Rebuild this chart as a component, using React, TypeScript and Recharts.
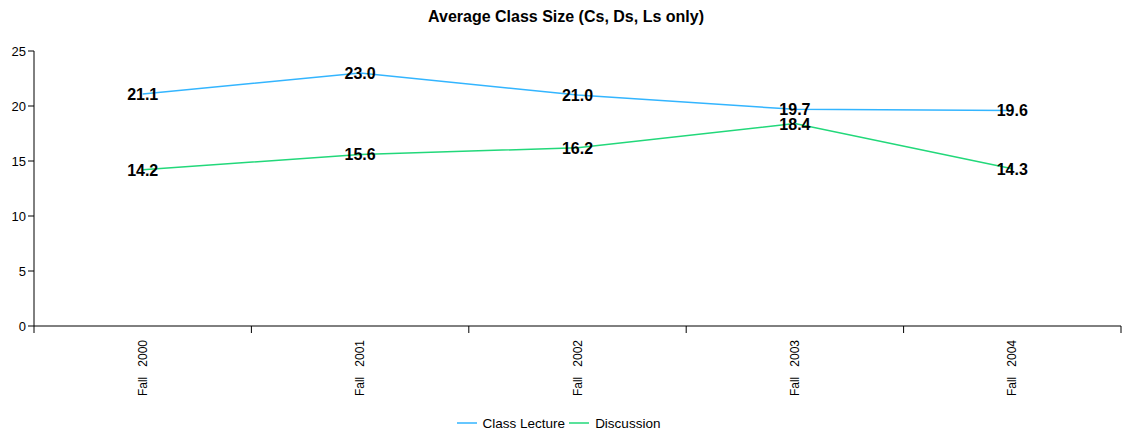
import React from "react";
import { LineChart, Line, XAxis, YAxis, Legend, LabelList } from "recharts";

const categories = ["Fall   2000", "Fall   2001", "Fall   2002", "Fall   2003", "Fall   2004"];
const classLecture = [21.1, 23.0, 21.0, 19.7, 19.6];
const discussion = [14.2, 15.6, 16.2, 18.4, 14.3];
const yTicks = [0, 5, 10, 15, 20, 25];
const boundaryTicks = [0, 1, 2, 3, 4, 5];

const data = categories.map((c, i) => ({
  name: c,
  idx: i + 0.5,
  lecture: classLecture[i],
  discussion: discussion[i],
}));

const FONT = "Arial, 'Liberation Sans', sans-serif";

const XTick = (props: any) => {
  const { x, y, payload } = props;
  return (
    <g transform={`translate(${x},${y})`}>
      <text
        transform="rotate(-90)"
        x={2}
        y={0}
        dy={4}
        textAnchor="end"
        fontSize={12}
        fontFamily={FONT}
        fill="#000"
        style={{ whiteSpace: "pre" }}
      >
        {payload.value}
      </text>
    </g>
  );
};

const PointLabel = (props: any) => {
  const { x, y, value } = props;
  return (
    <text
      x={x}
      y={y}
      dy={6}
      textAnchor="middle"
      fontSize={16}
      fontWeight="bold"
      fontFamily={FONT}
      fill="#000"
    >
      {Number(value).toFixed(1)}
    </text>
  );
};

const LegendContent = (props: any) => {
  const { payload } = props;
  return (
    <div style={{ height: 20, display: "flex", justifyContent: "center", alignItems: "center", fontFamily: FONT, fontSize: 13.5, color: "#000" }}>
      {(payload || []).map((p: any) => (
        <span key={p.value} style={{ display: "inline-flex", alignItems: "center", marginRight: 4 }}>
          <svg width={20} height={10} style={{ marginRight: 6 }}>
            <line x1={0} y1={5} x2={20} y2={5} stroke={p.color} strokeWidth={1.5} />
          </svg>
          {p.value}
        </span>
      ))}
    </div>
  );
};

export default function App() {
  return (
    <div style={{ position: "absolute", left: 0, top: 0, width: 1126, height: 435, background: "#fff", fontFamily: FONT }}>
      <div
        style={{
          position: "absolute",
          left: 0,
          top: 8,
          width: 1132,
          textAlign: "center",
          fontSize: 16,
          fontWeight: "bold",
          color: "#000",
        }}
      >
        Average Class Size (Cs, Ds, Ls only)
      </div>
      <LineChart
        width={1126}
        height={435}
        data={data}
        margin={{ top: 51, right: 5, bottom: 2, left: 0 }}
      >
        <XAxis
          xAxisId="a"
          dataKey="idx"
          type="number"
          domain={[0, 5]}
          ticks={boundaryTicks}
          interval={0}
          tickFormatter={() => ""}
          tickSize={7}
          height={8}
          stroke="#000"
          axisLine={{ stroke: "#000" }}
          tickLine={{ stroke: "#000" }}
        />
        <XAxis
          xAxisId="cat"
          dataKey="name"
          scale="band"
          interval={0}
          axisLine={false}
          tickLine={false}
          tick={<XTick />}
          height={79}
        />
        <YAxis
          domain={[0, 25]}
          ticks={yTicks}
          width={34}
          tickSize={6}
          axisLine={{ stroke: "#000" }}
          tickLine={{ stroke: "#000" }}
          tick={{ fontSize: 13, fill: "#000", fontFamily: FONT }}
          interval={0}
        />
        <Legend verticalAlign="bottom" content={<LegendContent />} />
        <Line
          xAxisId="cat"
          name="Class Lecture"
          dataKey="lecture"
          stroke="#33b5ff"
          strokeWidth={1.5}
          dot={false}
          activeDot={false}
          isAnimationActive={false}
        >
          <LabelList dataKey="lecture" content={<PointLabel />} />
        </Line>
        <Line
          xAxisId="cat"
          name="Discussion"
          dataKey="discussion"
          stroke="#22d87a"
          strokeWidth={1.5}
          dot={false}
          activeDot={false}
          isAnimationActive={false}
        >
          <LabelList dataKey="discussion" content={<PointLabel />} />
        </Line>
      </LineChart>
    </div>
  );
}
